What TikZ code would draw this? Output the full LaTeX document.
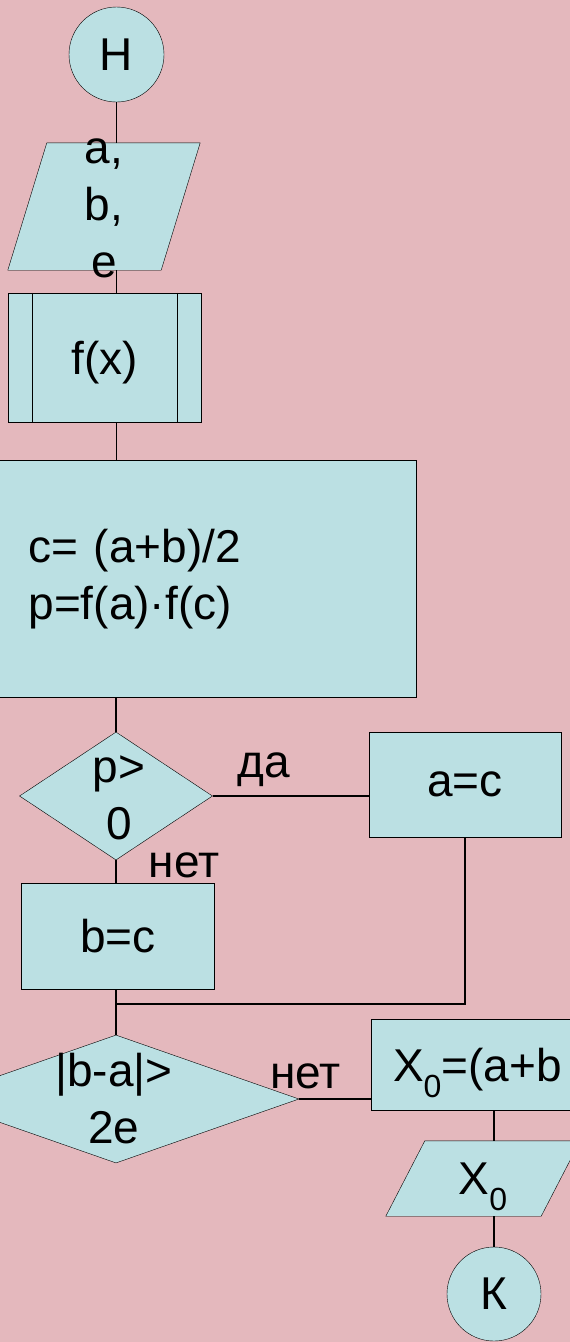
\documentclass[tikz,border=0pt]{standalone}
\usepackage{fontspec}
\setmainfont{Liberation Sans}
\usetikzlibrary{shapes.geometric}
\definecolor{bgpink}{RGB}{228,184,189}
\definecolor{shpfill}{RGB}{187,224,227}
\newcommand\mfs{\fontsize{46}{57}\selectfont}
\newcommand\zsub{\raisebox{-16pt}[0pt][0pt]{\fontsize{32}{32}\selectfont 0}}
\pgfdeclarelayer{bg}
\pgfdeclarelayer{shp}
\pgfsetlayers{bg,shp,main}
\begin{document}
\begin{tikzpicture}[x=1pt,y=-1pt,line width=1.6pt,
  every node/.style={font=\mfs,text=black},
  box/.style={draw=black,fill=shpfill,rectangle,inner sep=0pt},
  one/.style={box,text depth=0pt},
  term/.style={draw=black,fill=shpfill,circle,inner sep=0pt,minimum size=#1,text depth=0pt},
  dec/.style={draw=black,fill=shpfill,diamond,inner sep=0pt},
  iobox/.style={rectangle,inner sep=0pt},
  iofill/.style={draw=black,fill=shpfill},
  lbl/.style={anchor=base,inner sep=0pt},
  conn/.style={draw=black,line width=1.6pt}]
\useasboundingbox (0,0) rectangle (570,1342);
\begin{pgfonlayer}{bg}
  \fill[bgpink] (0,0) rectangle (570,1342);
\end{pgfonlayer}
\clip (0,0) rectangle (570,1342);

% nodes
\node[term=95] (H) at (116.5,54.5) {Н};
\node[iobox,minimum width=153,minimum height=127] (in) at (104,206.5) {};
\node[align=center,inner sep=0pt] (inT) at ([yshift=-2pt]in.center) {a,\\b,\\e};
\node[one,minimum width=193,minimum height=129] (fx) at (104.5,357.5) {f(x)};
\node[box,minimum width=426.5,minimum height=236.5,text width=349.5,align=left,inner xsep=38.5pt] (calc) at (203.25,578.75) {c= (a+b)/2\\p=f(a)·f(c)};
\node[dec,minimum width=193,minimum height=128] (d1) at (116,796) {};
\node[align=center,inner sep=0pt] (d1T) at ([xshift=3pt,yshift=-2pt]d1.center) {p>\\0};
\node[one,minimum width=192,minimum height=105] (ac) at (465,784.5) {a=c};
\node[one,minimum width=193,minimum height=106] (bc) at (118,936) {b=c};
\coordinate (j) at (116,1004);
\node[dec,minimum width=366,minimum height=128] (d2) at (116,1099) {};
\node[align=center,inner sep=0pt] (d2T) at ([xshift=-2pt]d2.center) {|b-a|>\\2e};
\node[one,minimum width=246,minimum height=91,text width=202,align=left,inner xsep=22pt] (x0) at (494,1064.5) {X\zsub=(a+b};
\node[iobox,minimum width=155,minimum height=75,text depth=0pt] (out) at (483,1178.5) {X\zsub};
\node[term=94] (K) at (494,1294) {К};

% input/output parallelograms behind their text
\begin{pgfonlayer}{shp}
  \clip (0,0) rectangle (570,1342);
  \filldraw[iofill] ([xshift=19.5pt]in.north west) -- ([xshift=19.5pt]in.north east)
    -- ([xshift=-19.5pt]in.south east) -- ([xshift=-19.5pt]in.south west) -- cycle;
  \filldraw[iofill] ([xshift=19.5pt]out.north west) -- ([xshift=19.5pt]out.north east)
    -- ([xshift=-19.5pt]out.south east) -- ([xshift=-19.5pt]out.south west) -- cycle;
\end{pgfonlayer}

% inner bars of the predefined process
\draw ([xshift=24.5pt]fx.north west) -- ([xshift=24.5pt]fx.south west);
\draw ([xshift=-24.5pt]fx.north east) -- ([xshift=-24.5pt]fx.south east);

% connectors
\draw[conn] (H.south) -- (H.south |- in.north);
\draw[conn] (H.south |- in.south) -- (H.south |- fx.north);
\draw[conn] (H.south |- fx.south) -- (H.south |- calc.north);
\draw[conn] (d1.north |- calc.south) -- (d1.north);
\draw[conn] (d1.south) -- (d1.south |- bc.north);
\draw[conn] (d1.east) -- (d1.east -| ac.west);
\draw[conn] (bc.south -| j) -- (j) -- (d2.north);
\draw[conn] (ac.south) -- (ac.south |- j) -- (j);
\draw[conn] (d2.east) -- (d2.east -| x0.west);
\draw[conn] (x0.south) -- (x0.south |- out.north);
\draw[conn] (out.south -| K.north) -- (K.north);

% branch labels
\node[lbl] (yes) at (264,777) {да};
\node[lbl] (no1) at (184,877) {нет};
\node[lbl] (no2) at (305.5,1088) {нет};
\end{tikzpicture}
\end{document}
